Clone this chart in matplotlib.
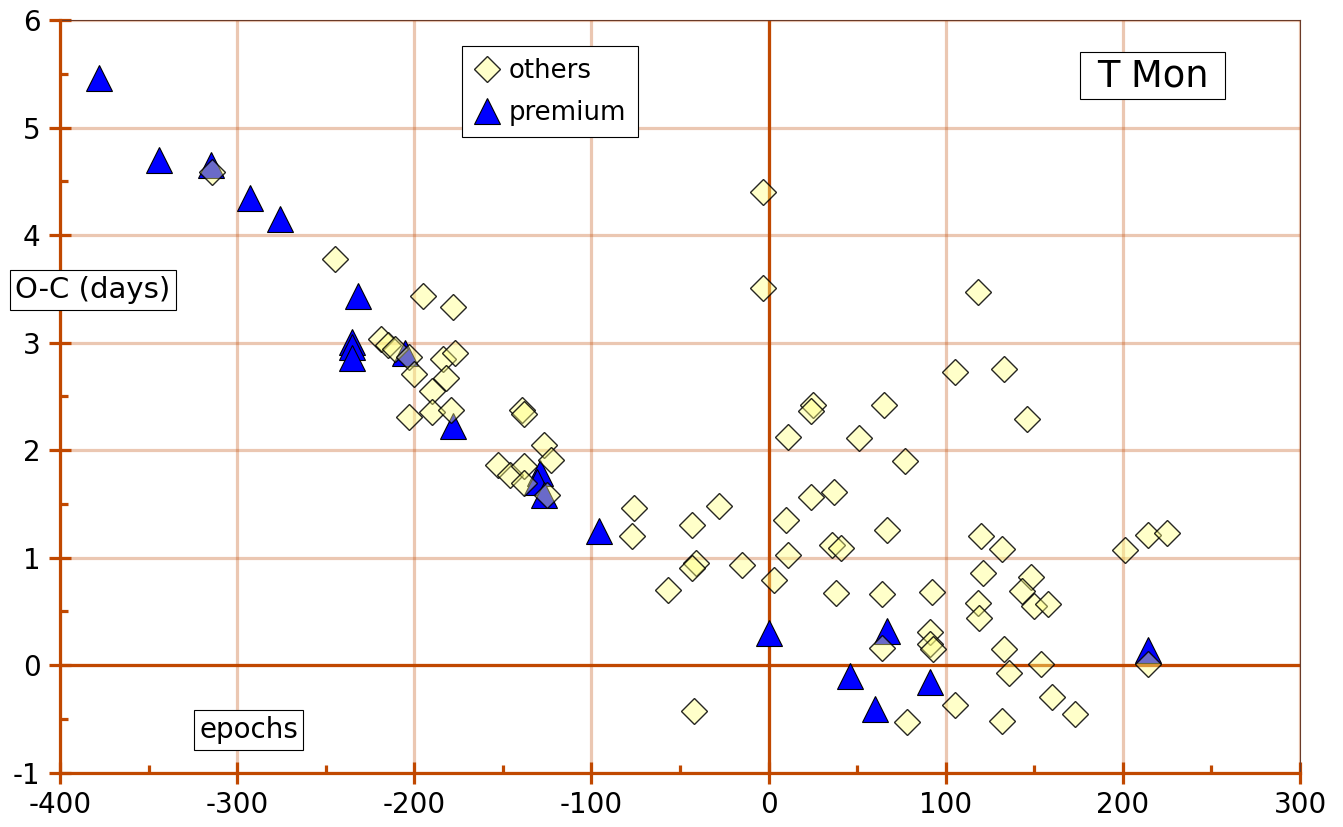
import matplotlib
matplotlib.use("Agg")
import matplotlib.pyplot as plt
from matplotlib.ticker import MultipleLocator
from matplotlib.patches import Rectangle

# ---------------- data ----------------
premium_x = [-378, -344, -315, -293, -276, -232, -235, -235, -235, -205, -178,
             -129, -131, -127, -96, 0, 46, 60, 67, 91, 214]
premium_y = [5.46, 4.70, 4.65, 4.34, 4.15, 3.43, 3.01, 2.96, 2.86, 2.90, 2.22,
             1.79, 1.70, 1.58, 1.25, 0.30, -0.10, -0.41, 0.32, -0.16, 0.14]

others_x = [-314, -245, -195, -178, -219, -215, -211, -203, -200, -184, -177,
            -182, -190, -203, -190, -179, -139, -138, -127, -123, -153, -146,
            -138, -138, -125, -76, -77, -43, -28, -41, -43, -15, -57, 3, 11,
            10, 11, -42, -3, -3, 118, 105, 25, 24, 65, 51, 77, 24, 37, 67, 120,
            146, 133, 36, 41, 132, 201, 214, 225, 121, 148, 143, 150, 158, 118,
            119, 38, 64, 92, 64, 91, 91, 93, 133, 136, 154, 160, 173, 132, 105,
            78, 214]
others_y = [4.59, 3.78, 3.43, 3.33, 3.03, 2.98, 2.94, 2.87, 2.71, 2.85, 2.90,
            2.67, 2.55, 2.31, 2.35, 2.37, 2.37, 2.34, 2.05, 1.91, 1.86, 1.77,
            1.85, 1.69, 1.58, 1.46, 1.20, 1.30, 1.48, 0.95, 0.90, 0.93, 0.70,
            0.79, 1.02, 1.35, 2.12, -0.43, 4.40, 3.51, 3.47, 2.73, 2.42, 2.36,
            2.42, 2.11, 1.90, 1.56, 1.61, 1.26, 1.20, 2.29, 2.75, 1.12, 1.09,
            1.08, 1.07, 1.21, 1.23, 0.86, 0.82, 0.69, 0.55, 0.57, 0.58, 0.44,
            0.67, 0.66, 0.68, 0.16, 0.31, 0.20, 0.15, 0.15, -0.07, 0.01, -0.30,
            -0.45, -0.52, -0.37, -0.53, 0.01]

x_ticks = [-400, -300, -200, -100, 0, 100, 200, 300]
y_ticks = [-1, 0, 1, 2, 3, 4, 5, 6]

title_text = "T Mon"
ylabel_text = "O-C (days)"
xlabel_text = "epochs"

# ---------------- style ----------------
W, H = 1343, 827
axis_col = "#c04800"
fig = plt.figure(figsize=(W / 100, H / 100), dpi=100)
ax = fig.add_axes([60 / W, 1 - 772.7 / H, (1300 - 60) / W, (772.7 - 20) / H])

ax.set_xlim(-400, 300)
ax.set_ylim(-1, 6)
ax.set_xticks(x_ticks)
ax.set_yticks(y_ticks)
ax.set_xticklabels([str(v) for v in x_ticks])
ax.set_yticklabels([str(v) for v in y_ticks])
ax.xaxis.set_minor_locator(MultipleLocator(50))
ax.yaxis.set_minor_locator(MultipleLocator(0.5))

ax.grid(True, which="major", color=axis_col, alpha=0.3, linewidth=2.3, zorder=0)
ax.set_axisbelow(True)

ax.axhline(0, color=axis_col, linewidth=2.3, zorder=1)
ax.axvline(0, color=axis_col, linewidth=2.3, zorder=1)

for s in ["left", "bottom"]:
    ax.spines[s].set_color(axis_col)
    ax.spines[s].set_linewidth(2.3)
    ax.spines[s].set_zorder(5)
for s in ["top", "right"]:
    ax.spines[s].set_color("#6a3a28")
    ax.spines[s].set_linewidth(0.8)

ax.tick_params(which="major", direction="inout", length=16, width=2.3,
               color=axis_col, labelsize=20, labelcolor="black")
ax.tick_params(axis="x", which="major", pad=5)
ax.tick_params(axis="y", which="major", pad=6)
ax.tick_params(which="minor", direction="in", length=6, width=2.3, color=axis_col)

ax.plot(premium_x, premium_y, linestyle="none", marker="^", markersize=19,
        markerfacecolor="#0000ff", markeredgecolor="black", markeredgewidth=0.8,
        label="premium", zorder=3, clip_on=False)
ax.plot(others_x, others_y, linestyle="none", marker="D", markersize=12.8,
        markerfacecolor=(1.0, 1.0, 0.5, 0.42), markeredgecolor=(0, 0, 0, 0.85),
        markeredgewidth=1.0, label="others", zorder=4, clip_on=False)

h, l = ax.get_legend_handles_labels()
leg = fig.legend([h[1], h[0]], [l[1], l[0]], loc="upper left",
                 bbox_to_anchor=(462 / W, 1 - 46 / H), borderaxespad=0,
                 fancybox=False, framealpha=1, edgecolor="black", fontsize=18.7,
                 handlelength=1.0, handletextpad=0.35, borderpad=0.45,
                 labelspacing=0.62)
leg.get_frame().set_linewidth(0.8)

# title box drawn as explicit rectangle in figure pixels
fig.patches.append(Rectangle((1080 / W, 1 - 99 / H), 145 / W, 47 / H,
                             transform=fig.transFigure, facecolor="white",
                             edgecolor="black", linewidth=0.8, zorder=10))
fig.text(1152.5 / W, 1 - 76 / H, title_text, fontsize=26.5, ha="center", va="center",
         zorder=11)
box = dict(boxstyle="square,pad=0.2", facecolor="white", edgecolor="black", linewidth=0.8)
fig.text(93 / W, 1 - 290 / H, ylabel_text, fontsize=21, ha="center", va="center", bbox=box)
fig.text(248.5 / W, 1 - 730 / H, xlabel_text, fontsize=20, ha="center", va="center", bbox=box)

fig.savefig("out.png", dpi=100)
